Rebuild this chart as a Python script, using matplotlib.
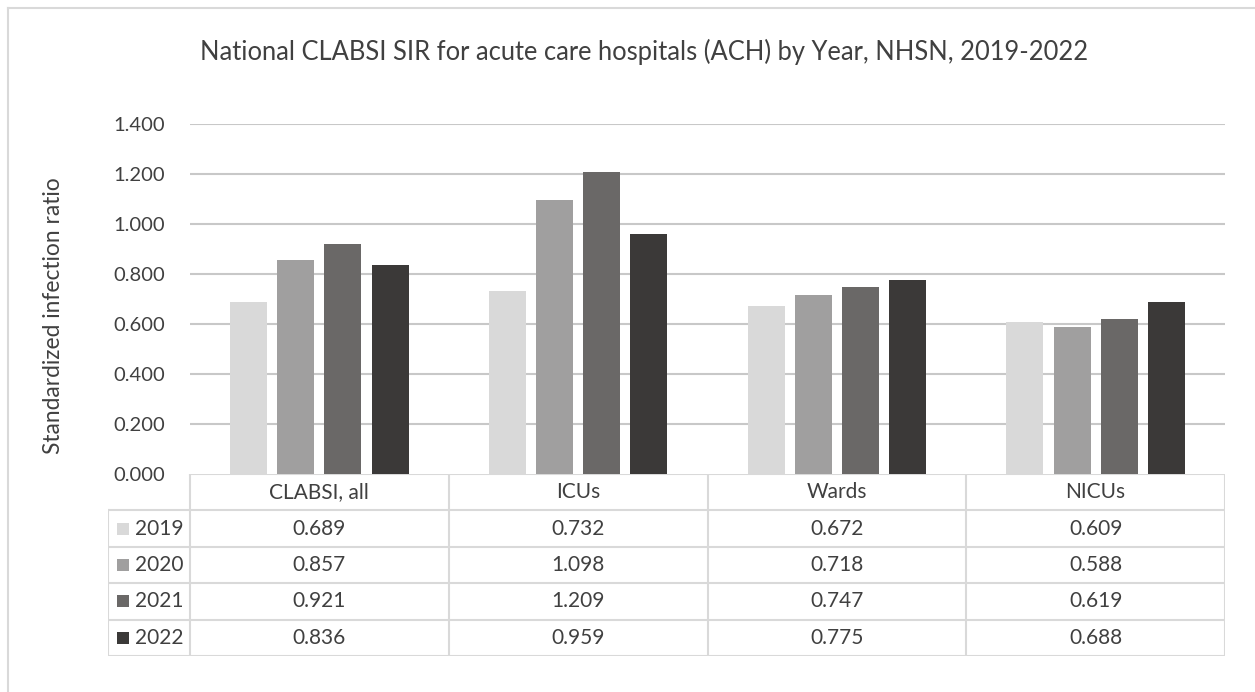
import matplotlib
matplotlib.use("Agg")
import matplotlib.pyplot as plt
from matplotlib.patches import Rectangle
from matplotlib.lines import Line2D
import numpy as np

categories = ["CLABSI, all", "ICUs", "Wards", "NICUs"]
years = ["2019", "2020", "2021", "2022"]
sir_2019 = [0.689, 0.732, 0.672, 0.609]
sir_2020 = [0.857, 1.098, 0.718, 0.588]
sir_2021 = [0.921, 1.209, 0.747, 0.619]
sir_2022 = [0.836, 0.959, 0.775, 0.688]
series = [sir_2019, sir_2020, sir_2021, sir_2022]
colors = ["#d9d9d9", "#a09f9f", "#6a6867", "#3b3938"]
yticks = [0.0, 0.2, 0.4, 0.6, 0.8, 1.0, 1.2, 1.4]

plt.rcParams["font.family"] = ["Lato", "DejaVu Sans"]
text_color = "#404040"
grid_color = "#c8c8c8"
table_color = "#d9d9d9"

W, H = 1255, 692
fig = plt.figure(figsize=(W / 100, H / 100), dpi=100)
fig.patch.set_facecolor("white")


def fx(px):
    return px / W


def fy(py):
    return 1 - py / H


# outer chart frame (left and top edges)
fig.add_artist(Line2D([fx(8), fx(8)], [fy(8), fy(H + 5)], color=table_color,
                      lw=1.5, transform=fig.transFigure))
fig.add_artist(Line2D([fx(8), fx(W + 5)], [fy(8), fy(8)], color=table_color,
                      lw=1.5, transform=fig.transFigure))

# plot area
left_px, right_px, top_px, bottom_px = 190, 1225, 124, 474
ax = fig.add_axes([fx(left_px), fy(bottom_px), fx(right_px - left_px),
                   (bottom_px - top_px) / H])
x = np.arange(len(categories))
bw = 0.143
step = 0.182
for i, (vals, c) in enumerate(zip(series, colors)):
    ax.bar(x + (i - 1.5) * step, vals, width=bw, color=c, zorder=3)
ax.set_xlim(-0.5, len(categories) - 0.5)
ax.set_ylim(0, 1.4)
ax.set_yticks(yticks)
ax.set_yticklabels([f"{v:.3f}" for v in yticks], color=text_color, fontsize=14.5)
ax.tick_params(axis="y", length=0, pad=18)
ax.set_xticks([])
for s in ax.spines.values():
    s.set_visible(False)
for v in yticks[1:]:
    ax.axhline(v, color=grid_color, lw=1.5, zorder=1)

fig.text(fx(54), fy(316), "Standardized infection ratio", rotation=90,
         ha="center", va="center", fontsize=16.4, color=text_color)

fig.text(fx(644.5), fy(60),
         "National CLABSI SIR for acute care hospitals (ACH) by Year, NHSN, 2019-2022",
         ha="center", va="baseline", fontsize=18.4, color=text_color)

# data table below the plot area
leg_left_px = 108
table_bottom_px = 656
unit = (right_px - left_px) / len(categories)
leg_w = (left_px - leg_left_px) / unit
n_rows = len(years) + 1
row_px = (table_bottom_px - bottom_px) / n_rows
tab = fig.add_axes([fx(leg_left_px), fy(table_bottom_px),
                    fx(right_px - leg_left_px), (table_bottom_px - bottom_px) / H])
tab.set_xlim(-0.5 - leg_w, len(categories) - 0.5)
tab.set_ylim(n_rows, 0)
tab.axis("off")
lw = 1.5
tab.plot([-0.5, len(categories) - 0.5], [0, 0], color=table_color, lw=lw)
for r in range(1, n_rows + 1):
    tab.plot([-0.5 - leg_w, len(categories) - 0.5], [r, r], color=table_color, lw=lw)
tab.plot([-0.5 - leg_w] * 2, [1, n_rows], color=table_color, lw=lw)
for k in range(len(categories) + 1):
    tab.plot([k - 0.5] * 2, [0, n_rows], color=table_color, lw=lw)

for k, cat in enumerate(categories):
    tab.text(k, 0.5, cat, ha="center", va="center", fontsize=15, color=text_color)

sq_w = 12 / unit
sq_h = 12 / row_px
for r, (yr, vals, c) in enumerate(zip(years, series, colors)):
    yc = r + 1.5
    tab.add_patch(Rectangle((-0.5 - leg_w + 9 / unit, yc - sq_h / 2), sq_w, sq_h,
                            facecolor=c, edgecolor="none"))
    tab.text(-0.5 - 7 / unit, yc, yr, ha="right", va="center", fontsize=15,
             color=text_color)
    for k, v in enumerate(vals):
        tab.text(k, yc, f"{v:.3f}", ha="center", va="center", fontsize=15,
                 color=text_color)

fig.savefig("out.png", dpi=100)
